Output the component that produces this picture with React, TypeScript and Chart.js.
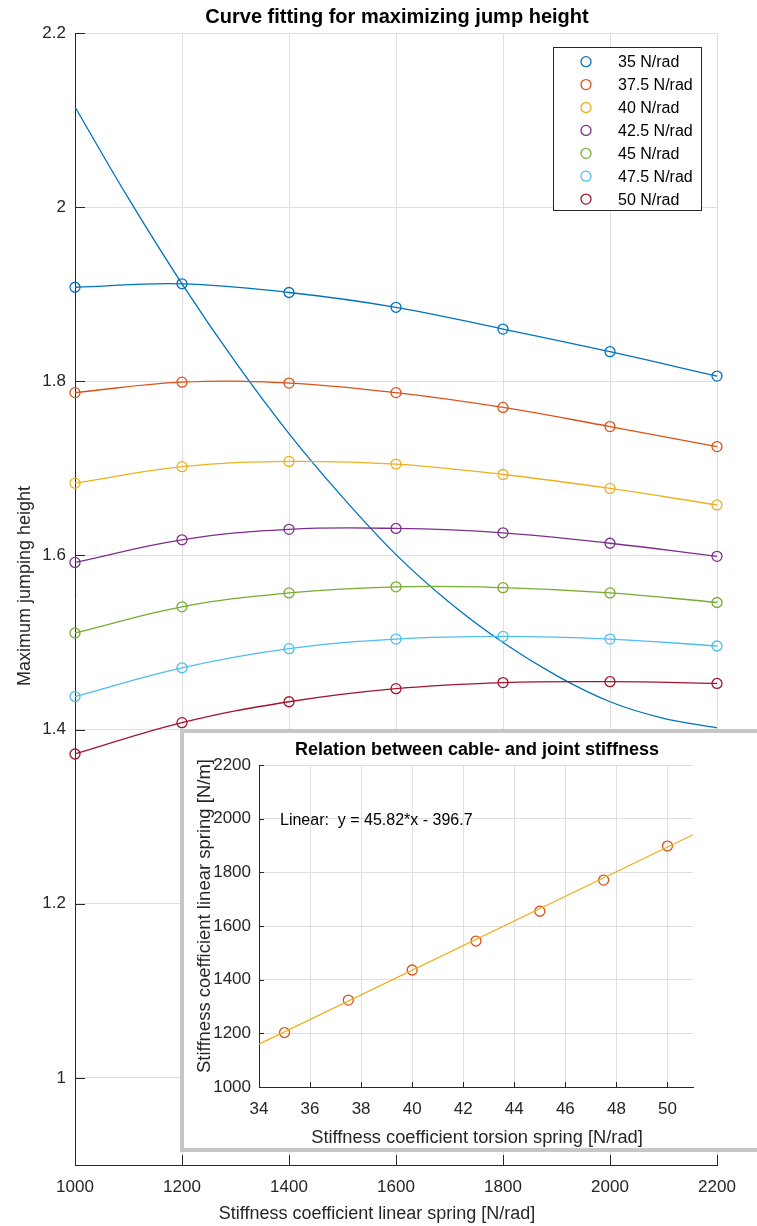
import React, { useEffect, useRef } from 'react';
import { Chart, registerables } from 'chart.js';

Chart.register(...registerables);

// ---------- data: main chart ----------
const linearStiffness = [1000, 1200, 1400, 1600, 1800, 2000, 2200];
const seriesLabels = ['35 N/rad', '37.5 N/rad', '40 N/rad', '42.5 N/rad', '45 N/rad', '47.5 N/rad', '50 N/rad'];
const height35 = [1.908, 1.912, 1.902, 1.885, 1.860, 1.834, 1.806];
const height375 = [1.787, 1.799, 1.798, 1.787, 1.770, 1.748, 1.725];
const height40 = [1.683, 1.702, 1.708, 1.705, 1.693, 1.677, 1.658];
const height425 = [1.592, 1.618, 1.630, 1.631, 1.626, 1.614, 1.599];
const height45 = [1.511, 1.541, 1.557, 1.564, 1.563, 1.557, 1.546];
const height475 = [1.438, 1.471, 1.493, 1.504, 1.507, 1.504, 1.496];
const height50 = [1.372, 1.408, 1.432, 1.447, 1.454, 1.455, 1.453];
const optimumStiffness = [1000, 1100, 1200, 1300, 1400, 1500, 1600, 1700, 1800, 1900, 2000, 2100, 2200];
const optimumCurve = [2.115, 2.010, 1.912, 1.822, 1.740, 1.667, 1.601, 1.546, 1.500, 1.462, 1.432, 1.413, 1.402];
const mainXTicks = [1000, 1200, 1400, 1600, 1800, 2000, 2200];
const mainYTicks = [1, 1.2, 1.4, 1.6, 1.8, 2, 2.2];

// ---------- data: inset chart ----------
const torsionStiffness = [35, 37.5, 40, 42.5, 45, 47.5, 50];
const cableStiffness = [1203, 1324, 1436, 1544, 1655, 1771, 1898];
const fitTorsion = [34, 51];
const fitCable = [1160, 1940];
const insetXTicks = [34, 36, 38, 40, 42, 44, 46, 48, 50];
const insetYTicks = [1000, 1200, 1400, 1600, 1800, 2000, 2200];

const seriesValues = [height35, height375, height40, height425, height45, height475, height50];
const seriesColors = ['#0072BD', '#D95319', '#EDB120', '#7E2F8E', '#77AC30', '#4DBEEE', '#A2142F'];

const FONT = '"Liberation Sans", Arial, Helvetica, sans-serif';
const AXIS = '#262626';
const GRID = '#dfdfdf';

function toPoints(xs: number[], ys: number[]) {
  return xs.map((x, i) => ({ x, y: ys[i] }));
}

function drawInwardTicks(chart: any, len: number) {
  const { ctx, chartArea, scales } = chart;
  ctx.save();
  ctx.strokeStyle = AXIS;
  ctx.lineWidth = 1;
  ctx.beginPath();
  scales.x.ticks.forEach((t: any) => {
    const px = Math.round(scales.x.getPixelForValue(t.value)) + 0.5;
    ctx.moveTo(px, chartArea.bottom);
    ctx.lineTo(px, chartArea.bottom - len);
  });
  scales.y.ticks.forEach((t: any) => {
    const py = Math.round(scales.y.getPixelForValue(t.value)) + 0.5;
    ctx.moveTo(chartArea.left, py);
    ctx.lineTo(chartArea.left + len, py);
  });
  ctx.stroke();
  ctx.restore();
}

function text(ctx: any, s: string, x: number, y: number, font: string, align: string, rotate = false, color = '#000') {
  ctx.save();
  ctx.font = font;
  ctx.fillStyle = color;
  ctx.textAlign = align;
  ctx.textBaseline = 'alphabetic';
  ctx.translate(x, y);
  if (rotate) ctx.rotate(-Math.PI / 2);
  ctx.fillText(s, 0, 0);
  ctx.restore();
}

const mainDecor = {
  id: 'mainDecor',
  afterDraw(chart: any) {
    const ctx = chart.ctx;
    drawInwardTicks(chart, 10);
    text(ctx, 'Curve fitting for maximizing jump height', 397, 23, `bold 20px ${FONT}`, 'center');
    text(ctx, 'Stiffness coefficient linear spring [N/rad]', 377, 1219, `18px ${FONT}`, 'center', false, AXIS);
    text(ctx, 'Maximum jumping height', 30, 586, `18px ${FONT}`, 'center', true, AXIS);
    // legend
    const lx = 553.5, ly = 47.5, lw = 148, lh = 163;
    ctx.save();
    ctx.fillStyle = '#fff';
    ctx.fillRect(lx, ly, lw, lh);
    ctx.strokeStyle = AXIS;
    ctx.lineWidth = 1;
    ctx.strokeRect(lx, ly, lw, lh);
    const entries = chart.data.datasets.filter((d: any) => d.inLegend);
    entries.forEach((d: any, i: number) => {
      const cy = 61.7 + i * 22.9;
      ctx.beginPath();
      ctx.strokeStyle = d.borderColor;
      ctx.lineWidth = 1.3;
      ctx.arc(586, cy, 5, 0, Math.PI * 2);
      ctx.stroke();
      ctx.fillStyle = '#000';
      ctx.font = `16px ${FONT}`;
      ctx.textAlign = 'left';
      ctx.textBaseline = 'middle';
      ctx.fillText(d.label, 618, cy + 1);
    });
    ctx.restore();
  },
};

const insetDecor = {
  id: 'insetDecor',
  afterDraw(chart: any) {
    const ctx = chart.ctx;
    drawInwardTicks(chart, 5);
    text(ctx, 'Relation between cable- and joint stiffness', 293, 22, `bold 18px ${FONT}`, 'center');
    text(ctx, 'Stiffness coefficient torsion spring [N/rad]', 293, 410, `18.3px ${FONT}`, 'center', false, AXIS);
    text(ctx, 'Stiffness coefficient linear spring [N/m]', 26, 183, `18.5px ${FONT}`, 'center', true, AXIS);
    text(ctx, 'Linear:  y = 45.82*x - 396.7', 96, 92, `16px ${FONT}`, 'left', false, '#000');
  },
};

function tickFont(size: number) {
  return { family: FONT, size };
}

export default function App() {
  const mainRef = useRef<HTMLCanvasElement>(null);
  const insetRef = useRef<HTMLCanvasElement>(null);

  useEffect(() => {
    const datasets: any[] = seriesValues.map((vals, i) => ({
      label: seriesLabels[i],
      inLegend: true,
      data: toPoints(linearStiffness, vals),
      borderColor: seriesColors[i],
      backgroundColor: 'rgba(0,0,0,0)',
      borderWidth: 1.3,
      pointRadius: 5,
      pointBorderWidth: 1.3,
      pointBorderColor: seriesColors[i],
      pointBackgroundColor: 'rgba(0,0,0,0)',
      showLine: true,
      tension: 0.4,
      clip: false,
    }));
    datasets.push({
      label: 'optimum',
      inLegend: false,
      data: toPoints(optimumStiffness, optimumCurve),
      borderColor: seriesColors[0],
      borderWidth: 1.3,
      pointRadius: 0,
      showLine: true,
      cubicInterpolationMode: 'monotone',
      clip: false,
    });

    const main = new Chart(mainRef.current as HTMLCanvasElement, {
      type: 'line',
      data: { datasets },
      options: {
        animation: false,
        responsive: false,
        maintainAspectRatio: false,
        events: [],
        layout: { padding: { top: 33, right: 40, left: 0, bottom: 0 } },
        plugins: { legend: { display: false }, tooltip: { enabled: false }, title: { display: false } },
        scales: {
          x: {
            type: 'linear',
            min: 1000,
            max: 2200,
            afterBuildTicks: (s: any) => { s.ticks = mainXTicks.map((v) => ({ value: v })); },
            afterFit: (s: any) => { s.height = 61; },
            grid: { color: GRID, drawTicks: false, lineWidth: 1 },
            border: { color: AXIS, width: 1 },
            ticks: { font: tickFont(17), color: AXIS, padding: 12, maxRotation: 0, autoSkip: false, callback: (v: any) => String(v) },
          },
          y: {
            type: 'linear',
            min: 0.9,
            max: 2.2,
            afterBuildTicks: (s: any) => { s.ticks = mainYTicks.map((v) => ({ value: v })); },
            afterFit: (s: any) => { s.width = 75; },
            grid: { color: GRID, drawTicks: false, lineWidth: 1 },
            border: { color: AXIS, width: 1 },
            ticks: { font: tickFont(17), color: AXIS, padding: 9, autoSkip: false, callback: (v: any) => String(Number(Number(v).toFixed(1))) },
          },
        },
      } as any,
      plugins: [mainDecor],
    });

    const inset = new Chart(insetRef.current as HTMLCanvasElement, {
      type: 'line',
      data: {
        datasets: [
          {
            label: 'fit',
            data: toPoints(fitTorsion, fitCable),
            borderColor: '#EDB120',
            borderWidth: 1.3,
            pointRadius: 0,
            showLine: true,
            clip: false,
          },
          {
            label: 'data',
            data: toPoints(torsionStiffness, cableStiffness),
            borderColor: '#D95319',
            showLine: false,
            pointRadius: 5,
            pointBorderWidth: 1.3,
            pointBorderColor: '#D95319',
            pointBackgroundColor: 'rgba(0,0,0,0)',
            clip: false,
          },
        ] as any,
      },
      options: {
        animation: false,
        responsive: false,
        maintainAspectRatio: false,
        events: [],
        layout: { padding: { top: 32, right: 64, left: 0, bottom: 0 } },
        plugins: { legend: { display: false }, tooltip: { enabled: false }, title: { display: false } },
        scales: {
          x: {
            type: 'linear',
            min: 34,
            max: 51,
            afterBuildTicks: (s: any) => { s.ticks = insetXTicks.map((v) => ({ value: v })); },
            afterFit: (s: any) => { s.height = 61; },
            grid: { color: GRID, drawTicks: false, lineWidth: 1 },
            border: { color: AXIS, width: 1 },
            ticks: { font: tickFont(17), color: AXIS, padding: 12, maxRotation: 0, autoSkip: false, callback: (v: any) => String(v) },
          },
          y: {
            type: 'linear',
            min: 1000,
            max: 2200,
            afterBuildTicks: (s: any) => { s.ticks = insetYTicks.map((v) => ({ value: v })); },
            afterFit: (s: any) => { s.width = 75; },
            grid: { color: GRID, drawTicks: false, lineWidth: 1 },
            border: { color: AXIS, width: 1 },
            ticks: { font: tickFont(17), color: AXIS, padding: 8, autoSkip: false, callback: (v: any) => String(v) },
          },
        },
      } as any,
      plugins: [insetDecor],
    });

    return () => {
      main.destroy();
      inset.destroy();
    };
  }, []);

  return (
    <div style={{ position: 'fixed', left: 0, top: 0, width: 757, height: 1226, overflow: 'hidden', background: '#fff' }}>
      <canvas ref={mainRef} width={757} height={1226} style={{ position: 'absolute', left: 0, top: 0 }} />
      <div
        style={{
          position: 'absolute',
          left: 180,
          top: 729,
          width: 577,
          height: 423,
          boxSizing: 'border-box',
          borderTop: '4px solid #c6c6c6',
          borderLeft: '4px solid #c6c6c6',
          borderBottom: '4px solid #c6c6c6',
          background: '#fff',
        }}
      >
        <canvas ref={insetRef} width={573} height={415} style={{ display: 'block' }} />
      </div>
    </div>
  );
}
